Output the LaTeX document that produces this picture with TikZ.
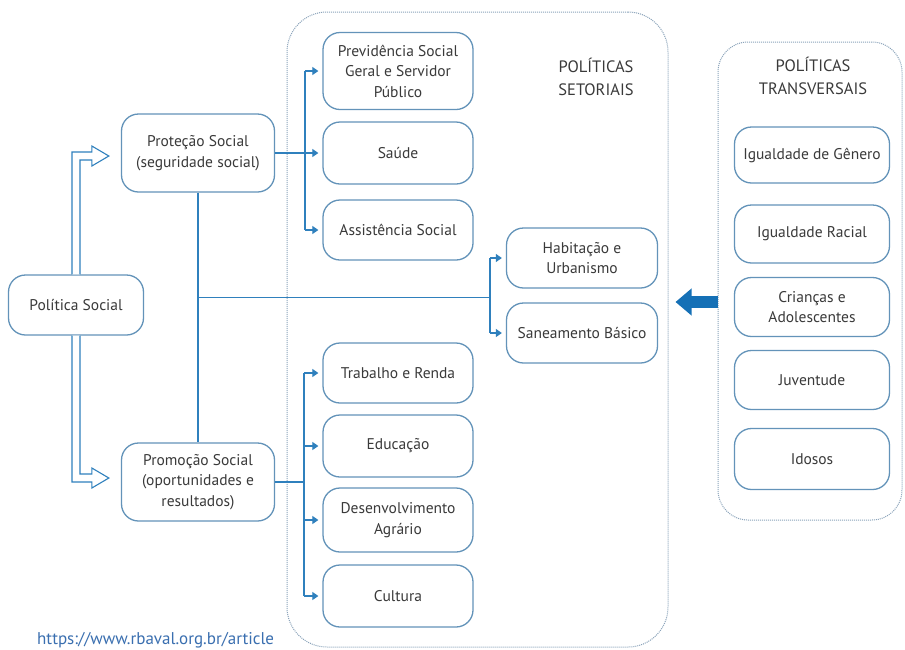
\documentclass[tikz,border=0pt]{standalone}
\usepackage{fontspec}
\setmainfont{PT Sans}
\usetikzlibrary{arrows.meta,calc}
\definecolor{boxc}{HTML}{6393B9}
\definecolor{connc}{HTML}{2F80BD}
\definecolor{tipc}{HTML}{1A72B8}
\definecolor{dotc}{HTML}{8AA3BA}
\definecolor{txtc}{HTML}{3A3A3A}
\definecolor{urlc}{HTML}{3A6FB0}
\definecolor{bigc}{HTML}{1570B6}
\tikzset{
  pbox/.style={draw=boxc, line width=1.3pt, rounded corners=17pt, fill=white,
    text=txtc, align=center, inner sep=2pt, minimum width=150pt,
    font=\fontsize{15.5}{20.5}\selectfont},
  frame/.style={draw=dotc, line width=1pt, dash pattern=on 1pt off 1pt,
    inner sep=0pt},
  conn/.style={draw=connc, line width=1.2pt},
  tipconn/.style={conn, -{Triangle[length=6pt,width=8pt]}, shorten >=4pt},
  hollow/.style={draw=connc, line width=1.1pt, fill=white, line join=miter},
  ttl/.style={text=txtc, align=center, font=\fontsize{16.5}{23}\selectfont},
}
\begin{document}
\begin{tikzpicture}[x=1pt,y=-1pt]
\useasboundingbox (0,0) rectangle (905,649);
\fill[white] (0,0) rectangle (905,649);

% frames
\node[frame, rounded corners=40pt, minimum width=381pt, minimum height=635pt] (set) at (477.5,329.5) {};
\node[frame, rounded corners=30pt, minimum width=184pt, minimum height=478pt] (trans) at (810,281) {};
\node[ttl] (setl) at (596,77) {POLÍTICAS\\SETORIAIS};
\node[ttl] (transl) at (813,76) {POLÍTICAS\\TRANSVERSAIS};

% left nodes
\node[pbox, minimum width=135pt, minimum height=60pt] (pol) at (76,305) {Política Social};
\node[pbox, minimum width=153pt, minimum height=78pt] (prot) at (198,153) {Proteção Social\\(seguridade social)};
\node[pbox, minimum width=153pt, minimum height=78pt] (promo) at (198,482) {Promoção Social\\(oportunidades e\\resultados)};

% sector nodes
\node[pbox, minimum height=77pt] (prev) at (398,71) {Previdência Social\\Geral e Servidor\\Público};
\node[pbox, minimum height=62pt] (saude) at (398,153) {Saúde};
\node[pbox, minimum height=60pt] (assist) at (398,230) {Assistência Social};
\node[pbox, minimum width=151pt, minimum height=60pt] (hab) at (582,258) {Habitação e\\Urbanismo};
\node[pbox, minimum width=151pt, minimum height=60pt] (san) at (582,333) {Saneamento Básico};
\node[pbox, minimum height=60pt] (trab) at (398,373) {Trabalho e Renda};
\node[pbox, minimum height=62pt] (edu) at (398,446) {Educação};
\node[pbox, minimum height=64pt] (des) at (398,520) {Desenvolvimento\\Agrário};
\node[pbox, minimum height=62pt] (cult) at (398,596) {Cultura};

% transversal nodes
\node[pbox, minimum width=155pt, minimum height=56pt] (gen) at (812,155) {Igualdade de Gênero};
\node[pbox, minimum width=155pt, minimum height=58pt] (rac) at (812,234) {Igualdade Racial};
\node[pbox, minimum width=155pt, minimum height=59pt] (cri) at (812,307) {Crianças e\\Adolescentes};
\node[pbox, minimum width=155pt, minimum height=59pt] (juv) at (812,380) {Juventude};
\node[pbox, minimum width=155pt, minimum height=61pt] (ido) at (812,459) {Idosos};

% hollow arrows from Politica Social
\coordinate (pw) at ($(prot.west)+(0,3)$);
\coordinate (mw) at ($(promo.west)+(0,-4)$);
\draw[hollow] ($(pol.north)+(-4,0)$) |- ($(pw)+(-29,-4)$) -- ($(pw)+(-29,-10)$)
  -- ($(pw)+(-12,0)$) -- ($(pw)+(-29,10)$) -- ($(pw)+(-29,4)$)
  -| ($(pol.north)+(4,0)$);
\draw[hollow] ($(pol.south)+(-4,0)$) |- ($(mw)+(-29,4)$) -- ($(mw)+(-29,10)$)
  -- ($(mw)+(-12,0)$) -- ($(mw)+(-29,-10)$) -- ($(mw)+(-29,-4)$)
  -| ($(pol.south)+(4,0)$);

% buses
\coordinate (b1) at (305,0);
\coordinate (b2) at (304,0);
\coordinate (b3) at (490,0);
\coordinate (j) at ($(prot.south)!0.42!(promo.north)$);

\draw[conn] (prot.east) -- (prot.east -| b1);
\draw[conn] (b1 |- prev.west) -- (b1 |- assist.west);
\draw[tipconn] (b1 |- prev.west) -- (prev.west);
\draw[tipconn] (b1 |- saude.west) -- (saude.west);
\draw[tipconn] (b1 |- assist.west) -- (assist.west);

\draw[conn] (prot.south) -- (promo.north);
\draw[conn] (j) -- (j -| b3);
\draw[conn] (b3 |- hab.west) -- (b3 |- san.west);
\draw[tipconn] (b3 |- hab.west) -- (hab.west);
\draw[tipconn] (b3 |- san.west) -- (san.west);

\draw[conn] (promo.east) -- (promo.east -| b2);
\draw[conn] (b2 |- trab.west) -- (b2 |- cult.west);
\draw[tipconn] (b2 |- trab.west) -- (trab.west);
\draw[tipconn] (b2 |- edu.west) -- (edu.west);
\draw[tipconn] (b2 |- des.west) -- (des.west);
\draw[tipconn] (b2 |- cult.west) -- (cult.west);

% big arrow
\draw[draw=bigc, line width=12pt, -{Triangle[length=16pt,width=26pt]}, shorten >=7pt]
  ($(trans.west |- cri.center)+(0,-5)$) -- ($(set.east |- cri.center)+(0,-5)$);

% source
\node[anchor=base west, inner sep=0pt, text=urlc, font=\fontsize{17}{20}\selectfont] (url) at (37,644) {https://www.rbaval.org.br/article};
\end{tikzpicture}
\end{document}
